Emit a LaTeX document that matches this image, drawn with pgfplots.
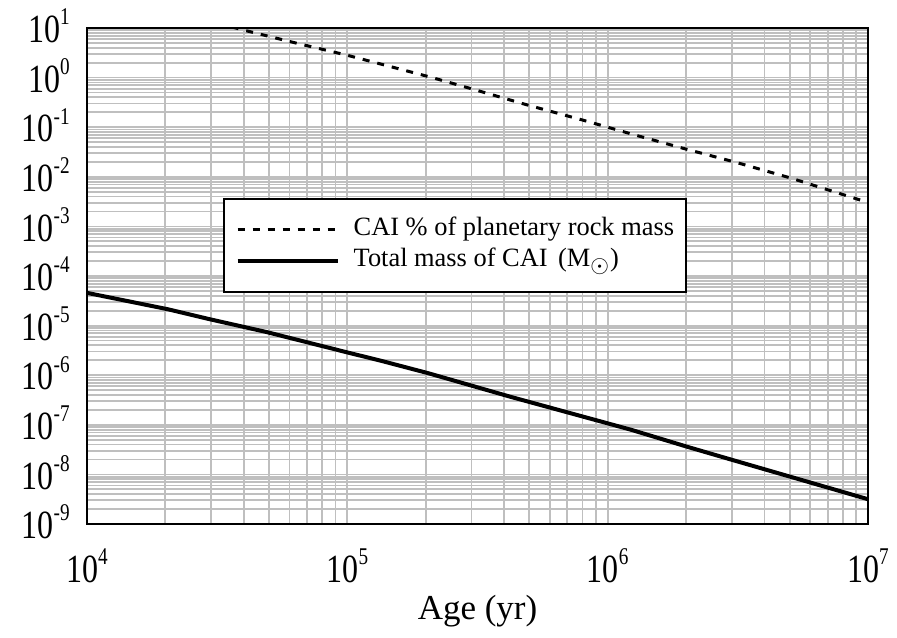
\documentclass[border=0pt]{standalone}
\usepackage{fontspec}
\setmainfont{Liberation Serif}
\usepackage{graphicx}
\usepackage{pgfplots}
\pgfplotsset{compat=1.18}
% condensed tick label: 10 with a small raised exponent
\newcommand{\tl}[1]{\scalebox{0.8}[1]{10\raisebox{8.9pt}{\fontsize{12}{12}\selectfont #1}}}

\begin{document}
\begin{tikzpicture}
\begin{axis}[
    scale only axis,
    width=390.5pt, height=248pt,
    xmode=log, ymode=log,
    xmin=1e4, xmax=1e7,
    ymin=1e-9, ymax=1e1,
    xtick={1e4,1e5,1e6,1e7},
    xticklabels={\tl{4},\tl{5},\tl{6},\tl{7}},
    ytick={1e-9,1e-8,1e-7,1e-6,1e-5,1e-4,1e-3,1e-2,1e-1,1e0,1e1},
    yticklabels={\tl{-9},\tl{-8},\tl{-7},\tl{-6},\tl{-5},\tl{-4},\tl{-3},\tl{-2},\tl{-1},\tl{0},\tl{1}},
    minor xtick={2e4,3e4,4e4,5e4,6e4,7e4,8e4,9e4,
                 2e5,3e5,4e5,5e5,6e5,7e5,8e5,9e5,
                 2e6,3e6,4e6,5e6,6e6,7e6,8e6,9e6},
    minor ytick={2e-9,3e-9,4e-9,5e-9,6e-9,7e-9,8e-9,9e-9,
                 2e-8,3e-8,4e-8,5e-8,6e-8,7e-8,8e-8,9e-8,
                 2e-7,3e-7,4e-7,5e-7,6e-7,7e-7,8e-7,9e-7,
                 2e-6,3e-6,4e-6,5e-6,6e-6,7e-6,8e-6,9e-6,
                 2e-5,3e-5,4e-5,5e-5,6e-5,7e-5,8e-5,9e-5,
                 2e-4,3e-4,4e-4,5e-4,6e-4,7e-4,8e-4,9e-4,
                 2e-3,3e-3,4e-3,5e-3,6e-3,7e-3,8e-3,9e-3,
                 2e-2,3e-2,4e-2,5e-2,6e-2,7e-2,8e-2,9e-2,
                 2e-1,3e-1,4e-1,5e-1,6e-1,7e-1,8e-1,9e-1,
                 2,3,4,5,6,7,8,9},
    grid=both,
    major grid style={gray!50, line width=0.9pt},
    minor grid style={gray!50, line width=0.9pt},
    major tick length=0pt, minor tick length=0pt,
    axis line style={black, line width=1pt},
    tick label style={font=\fontsize{20}{22}\selectfont, inner sep=0pt},
    yticklabel style={anchor=base east, xshift=-8.5pt, yshift=-7.3pt},
    xticklabel style={anchor=base, yshift=-29pt},
    xlabel={Age (yr)},
    xlabel style={font=\fontsize{17.5}{21}\selectfont, at={(axis description cs:0.5,0)}, anchor=north, yshift=-32pt},
    legend style={
        at={(rel axis cs:0.174,0.657)}, anchor=north west,
        draw=black, line width=0.8pt, fill=white,
        font=\fontsize{13.2}{15}\selectfont,
        inner xsep=6pt, inner ysep=9.5pt, row sep=3.5pt,
        nodes={inner xsep=0pt, inner ysep=0pt, text height=9pt, text depth=3pt},
    },
    legend cell align=left,
    legend image code/.code={\draw[#1] (0pt,0pt) -- (50pt,0pt);},
    clip=true,
]
\addplot[black, line width=1.5pt, dash pattern=on 3.5pt off 4pt] coordinates {
    (31623,12.59) (39811,9.12) (63096,5.01) (100000,2.82) (208930,1.02)
    (301995,0.589) (489779,0.282) (831764,0.132) (1258925,0.0708)
    (1995262,0.0363) (3162278,0.0191) (5011872,0.00955) (9332543,0.00340)
};
\addlegendentry{\hspace{7pt}CAI \% of planetary rock mass}
\addplot[black, line width=2pt] coordinates {
    (10000,4.57e-5) (20417,2.14e-5) (29512,1.35e-5) (48978,7.41e-6)
    (100000,2.88e-6) (134896,1.95e-6) (204174,1.10e-6) (426580,3.63e-7)
    (1000000,1.07e-7) (1230269,7.94e-8) (2041738,3.55e-8) (3019952,1.95e-8)
    (10000000,3.16e-9)
};
\addlegendentry{\hspace{7pt}Total mass of CAI\hspace{0.4em}(M\textsubscript{\scalebox{1.3}{$\odot$}})}
\coordinate (sw) at (rel axis cs:0,0);
\coordinate (ne) at (rel axis cs:1,1);
\end{axis}
\draw[black, line width=1pt] (sw) rectangle (ne);
\pgfresetboundingbox
\path (sw) ++(-43.5pt,-56.5pt) rectangle ([shift={(14.5pt,14pt)}]ne);
\end{tikzpicture}
\end{document}
